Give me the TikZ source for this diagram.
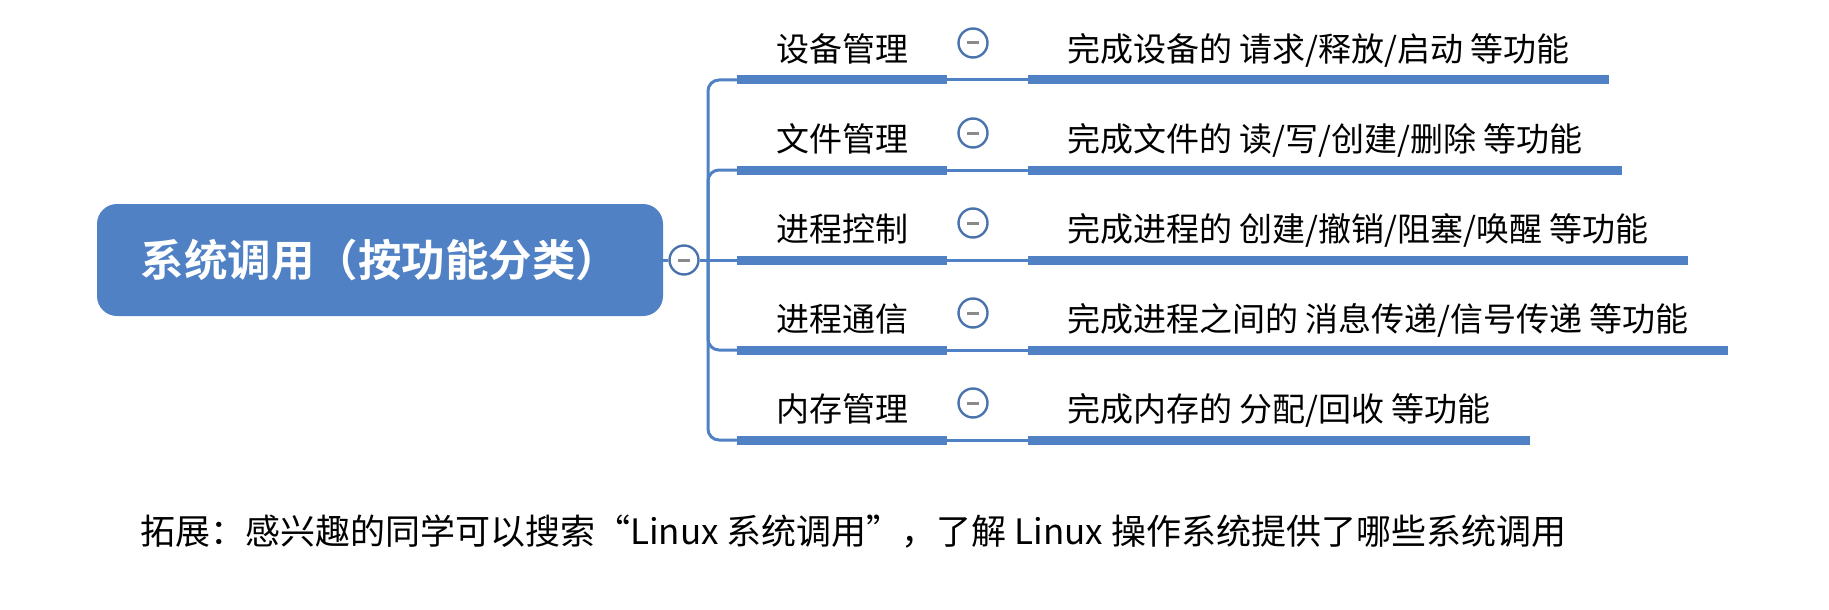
\documentclass[tikz,border=0pt]{standalone}
\usepackage{fontspec}
\setmainfont{Noto Sans CJK SC}[BoldFont={Noto Sans CJK SC Bold}]

\definecolor{mapblue}{HTML}{4F81C4}
\definecolor{ringblue}{HTML}{4A73AD}
\definecolor{minusgray}{HTML}{8A8A8A}

\begin{document}
\begin{tikzpicture}[x=1pt, y=-1pt,
  trunk/.style={draw=mapblue, line width=3pt},
  bar/.style={draw=mapblue, line width=9pt},
  topic/.style={anchor=south west, font=\fontsize{33}{33}\selectfont,
    text height=0.83em, text depth=0.07em, inner xsep=0pt, inner ysep=18pt,
    minimum width=210pt},
  detail/.style={topic, minimum width=0pt, inner xsep=39pt},
  fold/.style={circle, draw=ringblue, line width=2.4pt, fill=white,
    minimum size=29pt, inner sep=0pt,
    path picture={\draw[minusgray, line width=3pt]
      ([xshift=-6pt]path picture bounding box.center) --
      ([xshift=6pt]path picture bounding box.center);}}]
  \useasboundingbox (0,0) rectangle (1829,610);

  % root
  \node[fill=mapblue, rounded corners=20pt, minimum width=566pt,
    minimum height=112pt, text=white,
    font=\fontsize{43.5}{43.5}\selectfont\bfseries] (root) at (380,260)
    {系统调用（按功能分类）};
  \node[fold] (rootfold) at (684,260) {};
  \coordinate (fork) at (708,260);

  % topics
  \node[topic] (dev) at (737,80) {设备管理};
  \node[topic] (file) at (737,170) {文件管理};
  \node[topic] (proc) at (737,260) {进程控制};
  \node[topic] (ipc) at (737,350) {进程通信};
  \node[topic] (mem) at (737,440) {内存管理};

  \node[detail] (devd) at (1028,80) {完成设备的 请求/释放/启动 等功能};
  \node[detail] (filed) at (1028,170) {完成文件的 读/写/创建/删除 等功能};
  \node[detail] (procd) at (1028,260) {完成进程的 创建/撤销/阻塞/唤醒 等功能};
  \node[detail] (ipcd) at (1028,350) {完成进程之间的 消息传递/信号传递 等功能};
  \node[detail] (memd) at (1028,440) {完成内存的 分配/回收 等功能};

  \node[fold] (devf) at (973,43) {};
  \node[fold] (filef) at (973,133) {};
  \node[fold] (procf) at (973,223) {};
  \node[fold] (ipcf) at (973,313) {};
  \node[fold] (memf) at (973,403) {};

  % branches
  \draw[trunk] (root) -- (rootfold);
  \draw[trunk] (rootfold) -- (fork);
  \draw[trunk, rounded corners=11pt] (fork) |- (dev.south west);
  \draw[trunk, rounded corners=11pt] (fork) |- (file.south west);
  \draw[trunk] (fork) -- (proc.south west);
  \draw[trunk, rounded corners=11pt] (fork) |- (ipc.south west);
  \draw[trunk, rounded corners=11pt] (fork) |- (mem.south west);

  \draw[trunk] (dev.south east) -- (devd.south west);
  \draw[trunk] (file.south east) -- (filed.south west);
  \draw[trunk] (proc.south east) -- (procd.south west);
  \draw[trunk] (ipc.south east) -- (ipcd.south west);
  \draw[trunk] (mem.south east) -- (memd.south west);

  \draw[bar] (dev.south west) -- (dev.south east);
  \draw[bar] (file.south west) -- (file.south east);
  \draw[bar] (proc.south west) -- (proc.south east);
  \draw[bar] (ipc.south west) -- (ipc.south east);
  \draw[bar] (mem.south west) -- (mem.south east);

  \draw[bar] (devd.south west) -- (devd.south east);
  \draw[bar] (filed.south west) -- (filed.south east);
  \draw[bar] (procd.south west) -- (procd.south east);
  \draw[bar] (ipcd.south west) -- (ipcd.south east);
  \draw[bar] (memd.south west) -- (memd.south east);

  % note
  \node[anchor=west, inner sep=0pt, font=\fontsize{35}{35}\selectfont] (note)
    at (140,532) {拓展：感兴趣的同学可以搜索“Linux 系统调用”，了解 Linux 操作系统提供了哪些系统调用};
\end{tikzpicture}
\end{document}
